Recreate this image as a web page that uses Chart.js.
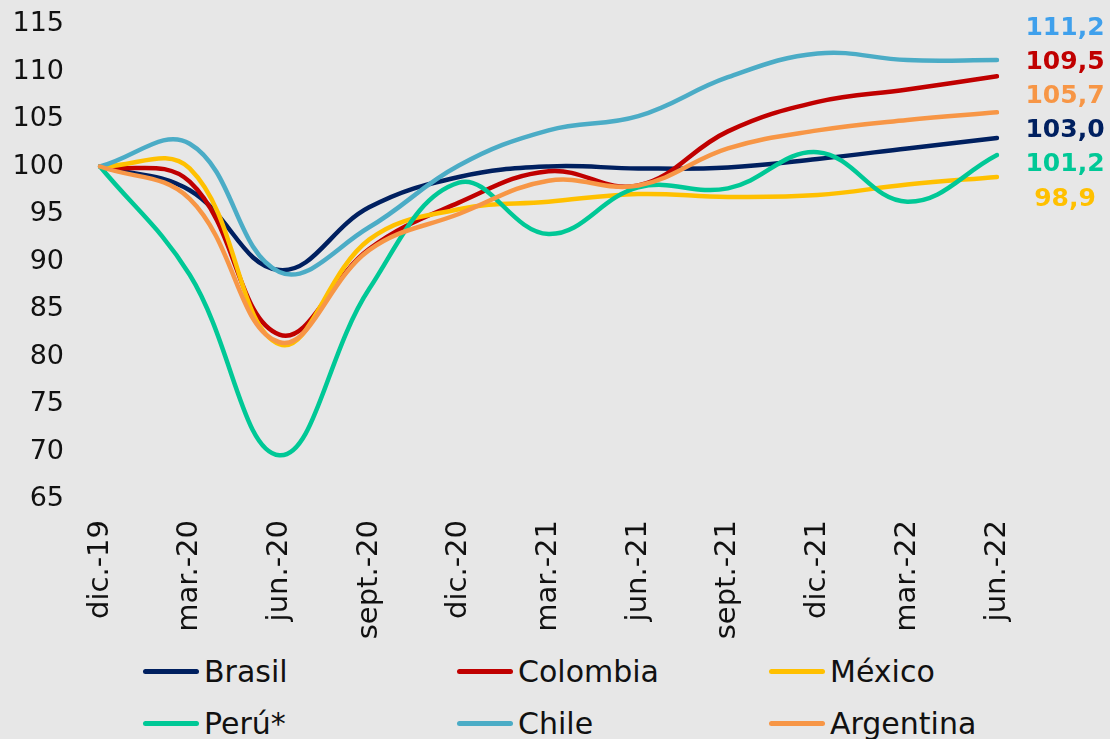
<!DOCTYPE html>
<html lang="es">
<head>
<meta charset="utf-8">
<title>Índice de actividad</title>
<script src="https://cdn.jsdelivr.net/npm/chart.js@4/dist/chart.umd.min.js"></script>
<style>
    html, body {
        margin: 0;
        padding: 0;
        background: #e7e7e7;
        font-family: "DejaVu Sans", sans-serif;
    }
    #wrap {
        position: relative;
        width: 1110px;
        height: 739px;
        overflow: hidden;
    }
    #chart {
        position: absolute;
        left: 0;
        top: 0;
    }
    .legend-item {
        position: absolute;
        height: 40px;
        display: flex;
        align-items: center;
        font-size: 30px;
        color: #111;
        white-space: nowrap;
    }
    .legend-item .swatch {
        width: 56px;
        height: 5px;
        border-radius: 3px;
        margin-right: 5px;
    }
</style>
</head>
<body>
<div id="wrap">
    <canvas id="chart" width="1110" height="640"></canvas>
    <div id="legend"></div>
</div>
<script>
// Quarterly index, dic.-19 = 100
const quarters = ['dic.-19', 'mar.-20', 'jun.-20', 'sept.-20', 'dic.-20', 'mar.-21',
                  'jun.-21', 'sept.-21', 'dic.-21', 'mar.-22', 'jun.-22'];

const brasil    = [100, 97.5, 89.1, 95.7, 98.9, 100.0, 99.8, 99.9, 100.8, 101.9, 103.0];
const colombia  = [100, 98.4, 82.3, 91.3, 96.2, 99.5, 98.0, 103.7, 106.8, 108.1, 109.5];
const mexico    = [100, 99.8, 81.3, 92.3, 95.5, 96.3, 97.1, 96.8, 97.0, 98.1, 98.9];
const peru      = [100, 88.6, 69.6, 87.1, 98.3, 92.9, 97.8, 97.7, 101.5, 96.3, 101.2];
const chile     = [100, 102.4, 88.9, 93.6, 100.1, 103.8, 105.3, 109.4, 111.9, 111.2, 111.2];
const argentina = [100, 96.6, 81.5, 91.2, 95.0, 98.5, 98.0, 101.9, 103.8, 104.9, 105.7];

const countries = ['Brasil', 'Colombia', 'México', 'Perú*', 'Chile', 'Argentina'];
const seriesValues = [brasil, colombia, mexico, peru, chile, argentina];

const yTicks = [65, 70, 75, 80, 85, 90, 95, 100, 105, 110, 115];

const lineColors  = ['#002060', '#c00000', '#ffc000', '#00c896', '#4bacc6', '#f79646'];
const labelColors = ['#002060', '#c00000', '#ffc000', '#00c896', '#3fa0ec', '#f79646'];

const FONT = '"DejaVu Sans", sans-serif';

const fmt = v => v.toFixed(1).replace('.', ',');

// Last-value labels stacked at the right edge, highest value on top
const endLabels = {
    id: 'endLabels',
    afterDatasetsDraw(chart) {
        const { ctx, chartArea, scales } = chart;
        const lastIdx = quarters.length - 1;
        const x = scales.x.getPixelForValue(lastIdx) + 68;
        const order = seriesValues
            .map((vals, i) => ({ i, v: vals[lastIdx] }))
            .sort((a, b) => b.v - a.v);
        ctx.save();
        ctx.font = 'bold 25px ' + FONT;
        ctx.textAlign = 'center';
        ctx.textBaseline = 'middle';
        order.forEach((item, k) => {
            ctx.fillStyle = labelColors[item.i];
            ctx.fillText(fmt(item.v), x, chartArea.top + 4 + k * 34.2);
        });
        ctx.restore();
    }
};

const datasets = countries.map((name, i) => ({
    label: name,
    data: seriesValues[i],
    borderColor: lineColors[i],
    backgroundColor: lineColors[i],
    borderWidth: 4.5,
    borderCapStyle: 'round',
    borderJoinStyle: 'round',
    pointRadius: 0,
    tension: 0.4,
    fill: false,
    // later series sit on top of earlier ones
    order: countries.length - i
}));

// fixed axis boxes so the plot area lands at the same place every time
function fixBox(size, dim) {
    return scale => {
        scale[dim] = size;
        scale.paddingTop = 0;
        scale.paddingBottom = 0;
        scale.paddingLeft = 0;
        scale.paddingRight = 0;
    };
}

new Chart(document.getElementById('chart').getContext('2d'), {
    type: 'line',
    data: { labels: quarters, datasets },
    options: {
        responsive: false,
        animation: false,
        layout: { padding: { top: 24, right: 113, left: 0, bottom: 0 } },
        plugins: {
            legend: { display: false },
            tooltip: { enabled: false }
        },
        scales: {
            x: {
                grid: { display: false, drawTicks: false },
                border: { display: false },
                offset: false,
                ticks: {
                    color: '#111',
                    font: { family: FONT, size: 29 },
                    minRotation: 90,
                    maxRotation: 90,
                    autoSkip: false,
                    padding: 21
                },
                afterFit: fixBox(141, 'height')
            },
            y: {
                min: 65,
                max: 115,
                grid: { display: false, drawTicks: false },
                border: { display: false },
                afterBuildTicks(scale) { scale.ticks = yTicks.map(v => ({ value: v })); },
                ticks: {
                    color: '#111',
                    font: { family: FONT, size: 27 },
                    padding: 36
                },
                afterFit: fixBox(100, 'width')
            }
        }
    },
    plugins: [endLabels]
});

// Legend: three columns, two rows
const legendCols = [143, 457, 769];
const legendRows = [651, 703];
const legendEl = document.getElementById('legend');
countries.forEach((name, i) => {
    const item = document.createElement('div');
    item.className = 'legend-item';
    item.style.left = legendCols[i % 3] + 'px';
    item.style.top = legendRows[Math.floor(i / 3)] + 'px';
    item.innerHTML = `<span class="swatch" style="background:${lineColors[i]}"></span><span>${name}</span>`;
    legendEl.appendChild(item);
});
</script>
</body>
</html>
